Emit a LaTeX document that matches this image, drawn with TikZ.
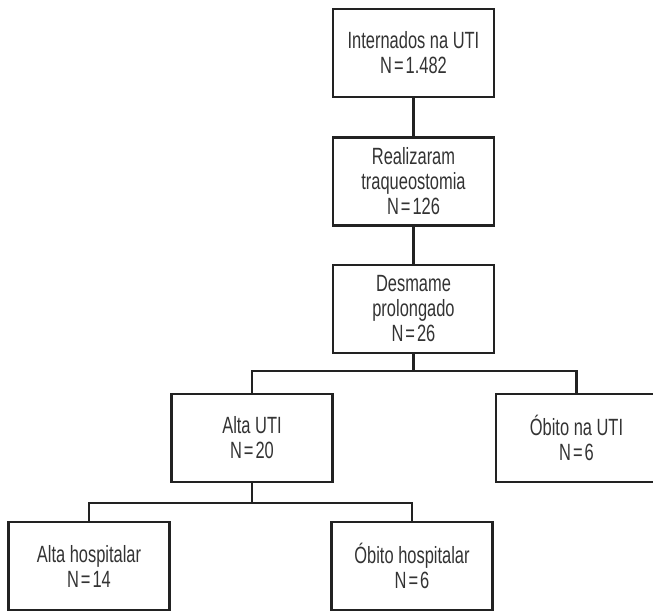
\documentclass[tikz,border=0pt]{standalone}
\usepackage{xcolor}
\usepackage{fontspec}
\setmainfont{Liberation Sans}[FakeStretch=0.70]
\usepackage{tikz}
\usetikzlibrary{positioning}
\usetikzlibrary{calc}
\definecolor{boxtext}{HTML}{333333}
\definecolor{boxline}{HTML}{222222}
\newcommand{\eqsign}{\kern2pt=\kern2pt}

\begin{document}
\begin{tikzpicture}[x=1pt,y=-1pt,
  flowbox/.style={draw=boxline,line width=2.8pt,minimum width=161pt,minimum height=88pt,inner sep=0pt,align=center,text=boxtext,font=\fontsize{23.5}{25}\selectfont},
  flowline/.style={draw=boxline,line width=2.8pt}]

\clip (0,0) rectangle (653,611);

%TOP
\node[flowbox](INT-box)at(413.5,53){Internados na UTI\\N\eqsign1.482};
\node[flowbox](TRQ-box)at(413.5,181.5){Realizaram\\traqueostomia\\N\eqsign126};
\node[flowbox](DSM-box)at(413.5,309){Desmame\\prolongado\\N\eqsign26};

%MIDDLE
\node[flowbox](ALTA-box)at(252,438){Alta UTI\\N\eqsign20};
\node[flowbox](OBUTI-box)at(576.5,438){Óbito na UTI\\N\eqsign6};

%BOTTOM
\node[flowbox](ALH-box)at(89,566){Alta hospitalar\\N\eqsign14};
\node[flowbox](OBH-box)at(412,566){Óbito hospitalar\\N\eqsign6};

%LINES
\coordinate (split-top) at (413.5,371);
\coordinate (split-low) at (252,503);
\draw[flowline] (INT-box) -- (TRQ-box);
\draw[flowline] (TRQ-box) -- (DSM-box);
\draw[flowline] (DSM-box) -- (split-top);
\draw[flowline] (ALTA-box.north) |- (split-top) -| (OBUTI-box.north);
\draw[flowline] (ALTA-box) -- (split-low);
\draw[flowline] (ALH-box.north) |- (split-low) -| (OBH-box.north);

\end{tikzpicture}
\end{document}
